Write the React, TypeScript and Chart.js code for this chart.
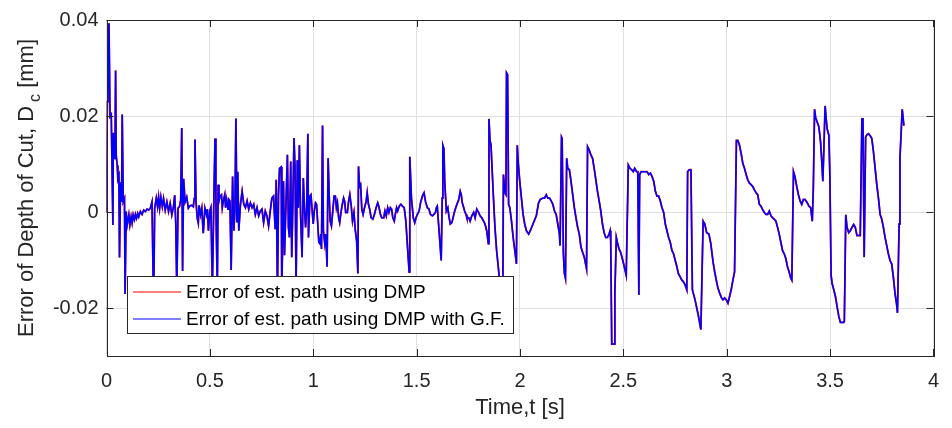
import React, { useEffect, useRef } from "react";
import { Chart, registerables } from "chart.js";

Chart.register(...registerables);

// time [s], error of depth of cut [mm]
const gfSamples: [number, number][] = [
  [0.000, 0.0000], [0.004, 0.0230], [0.007, 0.0240], [0.012, 0.0393], [0.017, 0.0199], [0.023, 0.0203], [0.031, -0.0027], [0.033, 0.0165], [0.041, 0.0110], [0.044, 0.0295],
  [0.047, 0.0117], [0.052, 0.0097], [0.055, 0.0069], [0.060, 0.0076], [0.063, -0.0095], [0.068, 0.0062], [0.073, 0.0021], [0.076, 0.0203], [0.081, 0.0021], [0.087, 0.0028],
  [0.090, -0.0171], [0.095, 0.0001], [0.100, -0.0027], [0.108, -0.0006], [0.113, -0.0027], [0.119, -0.0010], [0.124, -0.0023], [0.129, -0.0006], [0.135, -0.0016], [0.140, -0.0005],
  [0.145, -0.0013], [0.151, -0.0003], [0.156, -0.0010], [0.164, 0.0001], [0.172, -0.0005], [0.180, 0.0004], [0.188, 0.0001], [0.196, 0.0006], [0.204, 0.0004], [0.212, 0.0008],
  [0.220, 0.0021], [0.228, -0.0200], [0.233, 0.0008], [0.241, 0.0029], [0.247, 0.0011], [0.252, 0.0031], [0.257, 0.0008], [0.263, 0.0031], [0.270, 0.0011], [0.276, 0.0028],
  [0.284, 0.0004], [0.292, 0.0021], [0.300, 0.0001], [0.308, 0.0018], [0.316, -0.0006], [0.324, 0.0011], [0.330, 0.0035], [0.335, -0.0023], [0.340, -0.0160], [0.346, 0.0008],
  [0.353, 0.0011], [0.359, 0.0025], [0.364, 0.0175], [0.368, -0.0123], [0.373, 0.0069], [0.380, 0.0021], [0.388, 0.0031], [0.396, 0.0008], [0.404, 0.0013], [0.412, 0.0014],
  [0.420, 0.0011], [0.424, 0.0028], [0.428, 0.0151], [0.433, 0.0021], [0.439, -0.0013], [0.444, -0.0023], [0.448, 0.0014], [0.455, -0.0006], [0.461, 0.0008], [0.468, -0.0044],
  [0.476, 0.0008], [0.484, -0.0006], [0.488, 0.0006], [0.493, -0.0039], [0.500, 0.0002], [0.505, 0.0009], [0.512, -0.0160], [0.520, 0.0043], [0.525, 0.0153], [0.529, 0.0036],
  [0.531, -0.0036], [0.536, -0.0160], [0.540, 0.0057], [0.544, 0.0023], [0.549, 0.0033], [0.556, 0.0036], [0.560, 0.0009], [0.565, 0.0023], [0.572, 0.0036], [0.576, 0.0009],
  [0.581, 0.0026], [0.588, 0.0006], [0.592, 0.0026], [0.597, 0.0023], [0.603, -0.0121], [0.610, 0.0074], [0.616, -0.0039], [0.621, 0.0002], [0.626, 0.0195], [0.631, -0.0022],
  [0.635, 0.0084], [0.640, -0.0039], [0.648, 0.0016], [0.656, 0.0043], [0.664, 0.0016], [0.672, 0.0009], [0.680, 0.0023], [0.688, 0.0006], [0.696, 0.0019], [0.704, 0.0009],
  [0.712, 0.0016], [0.720, -0.0005], [0.728, 0.0009], [0.736, -0.0008], [0.744, 0.0002], [0.752, 0.0006], [0.760, -0.0022], [0.768, 0.0002], [0.776, -0.0008], [0.784, -0.0029],
  [0.792, 0.0002], [0.800, 0.0029], [0.808, 0.0033], [0.816, -0.0036], [0.821, 0.0067], [0.827, -0.0170], [0.832, 0.0036], [0.837, 0.0091], [0.845, 0.0094], [0.848, -0.0170],
  [0.856, 0.0064], [0.861, -0.0090], [0.867, 0.0000], [0.875, 0.0119], [0.880, -0.0032], [0.885, -0.0053], [0.891, 0.0105], [0.896, -0.0094], [0.901, 0.0009], [0.907, 0.0154],
  [0.912, 0.0091], [0.917, -0.0160], [0.923, 0.0108], [0.928, 0.0009], [0.933, 0.0139], [0.939, -0.0008], [0.946, -0.0094], [0.952, 0.0071], [0.957, 0.0012], [0.963, -0.0032],
  [0.968, 0.0002], [0.974, 0.0163], [0.977, -0.0053], [0.984, 0.0033], [0.989, 0.0036], [0.995, 0.0002], [1.000, -0.0025], [1.005, 0.0002], [1.011, 0.0019], [1.016, 0.0016],
  [1.021, -0.0019], [1.027, -0.0063], [1.032, -0.0066], [1.037, -0.0046], [1.040, -0.0077], [1.045, 0.0180], [1.049, -0.0039], [1.056, -0.0066], [1.061, -0.0046], [1.067, -0.0114],
  [1.072, 0.0112], [1.077, 0.0036], [1.082, -0.0019], [1.088, -0.0029], [1.093, -0.0005], [1.101, 0.0033], [1.107, 0.0033], [1.112, 0.0009], [1.117, 0.0019], [1.123, -0.0012],
  [1.128, -0.0022], [1.133, -0.0005], [1.139, 0.0012], [1.147, 0.0029], [1.152, 0.0022], [1.157, -0.0001], [1.165, -0.0001], [1.171, 0.0022], [1.177, 0.0036], [1.184, 0.0012],
  [1.190, -0.0019], [1.197, -0.0001], [1.203, -0.0036], [1.210, -0.0060], [1.216, -0.0128], [1.219, 0.0095], [1.224, 0.0053], [1.229, 0.0057], [1.235, 0.0006], [1.241, -0.0005],
  [1.248, 0.0009], [1.256, 0.0022], [1.261, 0.0040], [1.267, 0.0016], [1.273, 0.0006], [1.280, -0.0012], [1.288, -0.0015], [1.296, -0.0005], [1.304, 0.0009], [1.312, 0.0019],
  [1.317, 0.0012], [1.325, -0.0005], [1.331, -0.0012], [1.341, -0.0012], [1.347, 0.0002], [1.353, -0.0008], [1.360, 0.0009], [1.366, -0.0001], [1.373, 0.0009], [1.379, 0.0006],
  [1.385, -0.0012], [1.392, -0.0019], [1.397, -0.0005], [1.403, 0.0009], [1.408, 0.0002], [1.416, 0.0012], [1.424, 0.0016], [1.432, 0.0012], [1.440, 0.0009], [1.448, -0.0019],
  [1.456, -0.0073], [1.464, -0.0125], [1.467, 0.0115], [1.475, 0.0029], [1.484, -0.0012], [1.491, -0.0022], [1.497, -0.0012], [1.504, -0.0005], [1.512, 0.0002], [1.519, 0.0019],
  [1.528, 0.0033], [1.536, 0.0040], [1.543, 0.0022], [1.552, 0.0009], [1.560, 0.0006], [1.567, -0.0005], [1.576, -0.0008], [1.584, -0.0005], [1.591, -0.0001], [1.596, 0.0009],
  [1.600, 0.0012], [1.604, -0.0012], [1.611, -0.0053], [1.619, -0.0101], [1.624, 0.0029], [1.627, 0.0139], [1.632, 0.0132], [1.636, 0.0064], [1.644, 0.0002], [1.651, 0.0009],
  [1.656, -0.0008], [1.663, -0.0025], [1.671, -0.0022], [1.680, -0.0005], [1.687, 0.0006], [1.695, 0.0016], [1.704, 0.0026], [1.711, 0.0043], [1.716, 0.0036], [1.721, 0.0019],
  [1.728, 0.0009], [1.732, 0.0002], [1.739, -0.0005], [1.743, -0.0012], [1.752, -0.0012], [1.759, -0.0019], [1.767, -0.0008], [1.776, -0.0001], [1.783, -0.0012], [1.791, 0.0006],
  [1.800, -0.0001], [1.807, -0.0008], [1.815, -0.0012], [1.824, -0.0019], [1.831, -0.0025], [1.839, -0.0039], [1.847, -0.0066], [1.850, 0.0194], [1.855, 0.0149], [1.860, 0.0139],
  [1.871, 0.0036], [1.879, -0.0032], [1.887, -0.0080], [1.895, -0.0114], [1.903, -0.0150], [1.910, -0.0170], [1.917, -0.0180], [1.920, 0.0078], [1.927, 0.0040], [1.932, 0.0036],
  [1.935, 0.0290], [1.940, 0.0286], [1.945, 0.0016], [1.951, 0.0009], [1.959, -0.0019], [1.967, -0.0053], [1.975, -0.0080], [1.983, -0.0108], [1.987, 0.0139], [1.991, 0.0105],
  [1.999, 0.0064], [2.015, -0.0005], [2.023, -0.0025], [2.031, -0.0039], [2.042, -0.0046], [2.050, -0.0039], [2.063, -0.0025], [2.079, -0.0008], [2.090, 0.0019], [2.098, 0.0026],
  [2.111, 0.0029], [2.119, 0.0029], [2.127, 0.0036], [2.135, 0.0029], [2.143, 0.0029], [2.151, 0.0023], [2.159, 0.0016], [2.167, 0.0002], [2.175, -0.0005], [2.183, -0.0025],
  [2.191, -0.0046], [2.194, -0.0070], [2.201, 0.0156], [2.204, 0.0153], [2.210, -0.0087], [2.215, -0.0128], [2.220, -0.0138], [2.226, 0.0112], [2.231, 0.0091], [2.239, 0.0088],
  [2.247, 0.0064], [2.255, 0.0036], [2.263, 0.0009], [2.271, -0.0012], [2.279, -0.0032], [2.287, -0.0046], [2.295, -0.0073], [2.303, -0.0084], [2.311, -0.0094], [2.322, -0.0118],
  [2.327, 0.0136], [2.335, 0.0129], [2.343, 0.0119], [2.351, 0.0112], [2.359, 0.0091], [2.367, 0.0067], [2.375, 0.0043], [2.383, 0.0023], [2.391, 0.0002], [2.399, -0.0025],
  [2.407, -0.0043], [2.415, -0.0053], [2.423, -0.0053], [2.431, -0.0046], [2.436, -0.0039], [2.439, -0.0060], [2.444, -0.0275], [2.455, -0.0275], [2.459, -0.0169], [2.466, -0.0053],
  [2.471, -0.0063], [2.479, -0.0077], [2.487, -0.0084], [2.495, -0.0097], [2.503, -0.0111], [2.514, -0.0132], [2.524, 0.0098], [2.532, 0.0091], [2.540, 0.0088], [2.548, 0.0084],
  [2.555, 0.0091], [2.564, 0.0084], [2.570, 0.0084], [2.575, -0.0173], [2.579, 0.0078], [2.586, 0.0084], [2.599, 0.0084], [2.615, 0.0084], [2.623, 0.0078], [2.631, 0.0081],
  [2.639, 0.0074], [2.647, 0.0064], [2.655, 0.0043], [2.663, 0.0033], [2.671, 0.0033], [2.679, 0.0023], [2.687, 0.0009], [2.695, -0.0001], [2.703, -0.0025], [2.711, -0.0039],
  [2.719, -0.0053], [2.727, -0.0063], [2.735, -0.0080], [2.743, -0.0087], [2.751, -0.0101], [2.759, -0.0114], [2.766, -0.0128], [2.775, -0.0135], [2.783, -0.0142], [2.790, -0.0145],
  [2.799, -0.0152], [2.807, -0.0162], [2.811, 0.0084], [2.819, 0.0088], [2.827, 0.0088], [2.834, -0.0162], [2.847, -0.0183], [2.862, -0.0214], [2.875, -0.0245], [2.886, -0.0019],
  [2.894, -0.0025], [2.903, -0.0043], [2.914, -0.0046], [2.923, -0.0066], [2.934, -0.0104], [2.942, -0.0125], [2.951, -0.0145], [2.958, -0.0159], [2.966, -0.0169], [2.975, -0.0179],
  [2.982, -0.0183], [2.990, -0.0179], [2.998, -0.0183], [3.006, -0.0190], [3.014, -0.0176], [3.023, -0.0159], [3.030, -0.0142], [3.038, -0.0125], [3.047, 0.0149], [3.054, 0.0149],
  [3.062, 0.0139], [3.071, 0.0119], [3.078, 0.0101], [3.086, 0.0091], [3.094, 0.0078], [3.102, 0.0067], [3.110, 0.0060], [3.118, 0.0057], [3.126, 0.0053], [3.134, 0.0046],
  [3.142, 0.0040], [3.150, 0.0036], [3.158, 0.0016], [3.166, 0.0012], [3.174, 0.0005], [3.182, -0.0001], [3.190, -0.0005], [3.198, -0.0005], [3.206, 0.0002], [3.214, -0.0008],
  [3.222, -0.0012], [3.230, -0.0015], [3.238, -0.0019], [3.246, -0.0032], [3.254, -0.0046], [3.262, -0.0063], [3.270, -0.0080], [3.278, -0.0087], [3.286, -0.0097], [3.294, -0.0114],
  [3.302, -0.0125], [3.310, -0.0138], [3.315, -0.0142], [3.323, 0.0084], [3.330, 0.0074], [3.339, 0.0053], [3.347, 0.0036], [3.355, 0.0023], [3.363, 0.0016], [3.371, 0.0026],
  [3.379, 0.0026], [3.390, 0.0019], [3.398, 0.0012], [3.406, 0.0009], [3.414, -0.0019], [3.419, 0.0050], [3.425, 0.0214], [3.430, 0.0197], [3.438, 0.0187], [3.446, 0.0177],
  [3.454, 0.0146], [3.460, 0.0105], [3.465, 0.0064], [3.470, 0.0132], [3.476, 0.0221], [3.481, 0.0194], [3.486, 0.0173], [3.494, 0.0160], [3.499, 0.0078], [3.505, -0.0132],
  [3.510, -0.0149], [3.518, -0.0162], [3.526, -0.0176], [3.534, -0.0197], [3.542, -0.0217], [3.550, -0.0230], [3.566, -0.0230], [3.569, -0.0228], [3.576, -0.0006], [3.582, -0.0032],
  [3.590, -0.0043], [3.598, -0.0039], [3.606, -0.0032], [3.614, -0.0026], [3.622, -0.0032], [3.630, -0.0049], [3.646, -0.0049], [3.654, 0.0194], [3.659, 0.0194], [3.665, -0.0094],
  [3.672, 0.0156], [3.678, 0.0161], [3.686, 0.0163], [3.694, 0.0159], [3.702, 0.0153], [3.710, 0.0125], [3.718, 0.0091], [3.726, 0.0057], [3.734, 0.0029], [3.742, -0.0005],
  [3.750, -0.0015], [3.758, -0.0032], [3.766, -0.0053], [3.774, -0.0070], [3.782, -0.0087], [3.790, -0.0101], [3.798, -0.0108], [3.806, -0.0135], [3.814, -0.0169], [3.822, -0.0193],
  [3.826, -0.0210], [3.834, -0.0025], [3.838, 0.0112], [3.849, 0.0214], [3.857, 0.0180],
];

// The plain-DMP estimate is visually indistinguishable from the G.F. one
const dmpSamples: [number, number][] = gfSamples;

const xTicks = [0, 0.5, 1, 1.5, 2, 2.5, 3, 3.5, 4];
const yTicks = [-0.02, 0, 0.02, 0.04];
const legendLabels = ["Error of est. path using DMP", "Error of est. path using DMP with G.F."];
const seriesColors = ["#ff0000", "#0000ff"];

const FONT = "'Liberation Sans', Arial, Helvetica, sans-serif";
const TEXT = "#262626";

const decorPlugin = {
  id: "matlabDecor",
  afterDatasetsDraw(chart: any) {
    const { ctx, chartArea: a, scales } = chart;
    const xs = scales.x;
    const ys = scales.y;
    ctx.save();
    // box + inward ticks
    ctx.strokeStyle = TEXT;
    ctx.lineWidth = 1;
    ctx.strokeRect(Math.round(a.left) + 0.5, Math.round(a.top) + 0.5, Math.round(a.right - a.left), Math.round(a.bottom - a.top));
    const tl = 7;
    ctx.beginPath();
    xTicks.forEach((v) => {
      const px = Math.round(xs.getPixelForValue(v)) + 0.5;
      ctx.moveTo(px, a.bottom);
      ctx.lineTo(px, a.bottom - tl);
      ctx.moveTo(px, a.top);
      ctx.lineTo(px, a.top + tl);
    });
    yTicks.forEach((v) => {
      const py = Math.round(ys.getPixelForValue(v)) + 0.5;
      ctx.moveTo(a.left, py);
      ctx.lineTo(a.left + tl, py);
      ctx.moveTo(a.right, py);
      ctx.lineTo(a.right - tl, py);
    });
    ctx.stroke();

    // legend
    const lx = 127.5, ly = 276.5, lw = 386, lh = 57;
    ctx.fillStyle = "#ffffff";
    ctx.fillRect(lx, ly, lw, lh);
    ctx.strokeStyle = TEXT;
    ctx.strokeRect(lx, ly, lw, lh);
    const rows = [292, 319];
    ctx.font = `19px ${FONT}`;
    ctx.textBaseline = "middle";
    ctx.textAlign = "left";
    legendLabels.forEach((lab, i) => {
      ctx.strokeStyle = seriesColors[i];
      ctx.lineWidth = 1.2;
      ctx.beginPath();
      ctx.moveTo(133, rows[i]);
      ctx.lineTo(181, rows[i]);
      ctx.stroke();
      ctx.fillStyle = "#000000";
      ctx.fillText(lab, 186, rows[i] + 1);
    });
    ctx.restore();
  },
  afterDraw(chart: any) {
    const { ctx, chartArea: a } = chart;
    ctx.save();
    ctx.fillStyle = TEXT;
    ctx.font = `22px ${FONT}`;
    ctx.textAlign = "center";
    ctx.textBaseline = "middle";
    ctx.fillText("Time,t [s]", (a.left + a.right) / 2, 408);

    // rotated y title with subscript
    const main = "Error of Depth of Cut, D";
    const sub = "c";
    const tail = " [mm]";
    ctx.font = `22px ${FONT}`;
    const wMain = ctx.measureText(main).width;
    const wTail = ctx.measureText(tail).width;
    ctx.font = `16px ${FONT}`;
    const wSub = ctx.measureText(sub).width;
    const gap = 4;
    const total = wMain + gap + wSub + wTail;
    const cy = (a.top + a.bottom) / 2;
    ctx.translate(33, cy);
    ctx.rotate(-Math.PI / 2);
    ctx.textAlign = "left";
    ctx.textBaseline = "alphabetic";
    let x0 = -total / 2;
    ctx.font = `22px ${FONT}`;
    ctx.fillText(main, x0, 0);
    x0 += wMain + gap;
    ctx.font = `16px ${FONT}`;
    ctx.fillText(sub, x0, 7);
    x0 += wSub;
    ctx.font = `22px ${FONT}`;
    ctx.fillText(tail, x0, 0);
    ctx.restore();
  },
};

export default function App() {
  const ref = useRef<HTMLCanvasElement | null>(null);

  useEffect(() => {
    if (!ref.current) return;
    const chart = new Chart(ref.current, {
      type: "line",
      data: {
        datasets: [
          {
            label: legendLabels[1],
            data: gfSamples.map(([t, e]) => ({ x: t, y: e })),
            borderColor: seriesColors[1],
            borderWidth: 1.6,
            pointRadius: 0,
            tension: 0,
            order: 0,
          },
          {
            label: legendLabels[0],
            data: dmpSamples.map(([t, e]) => ({ x: t, y: e })),
            borderColor: seriesColors[0],
            borderWidth: 1.8,
            pointRadius: 0,
            tension: 0,
            order: 1,
          },
        ],
      },
      options: {
        animation: false,
        responsive: false,
        events: [],
        layout: { padding: { top: 16, right: 12, left: 0, bottom: 0 } },
        plugins: { legend: { display: false }, tooltip: { enabled: false } },
        scales: {
          x: {
            type: "linear",
            min: 0,
            max: 4,
            afterBuildTicks: (s: any) => {
              s.ticks = xTicks.map((v) => ({ value: v }));
            },
            afterFit: (s: any) => {
              s.height = 72;
            },
            grid: { color: "#dfdfdf", drawTicks: false, lineWidth: 1 },
            border: { display: false },
            ticks: {
              color: TEXT,
              font: { family: FONT, size: 20 },
              padding: 13,
              maxRotation: 0,
              autoSkip: false,
              callback: (v: any) => String(v),
            },
          },
          y: {
            type: "linear",
            min: -0.03,
            max: 0.04,
            afterBuildTicks: (s: any) => {
              s.ticks = yTicks.map((v) => ({ value: v }));
            },
            afterFit: (s: any) => {
              s.width = 106.5;
            },
            grid: { color: "#dfdfdf", drawTicks: false, lineWidth: 1 },
            border: { display: false },
            ticks: {
              color: TEXT,
              font: { family: FONT, size: 20 },
              padding: 8,
              autoSkip: false,
              callback: (v: any) => (v === 0 ? "0" : Number(v).toFixed(2)),
            },
          },
        },
      },
      plugins: [decorPlugin],
    });
    return () => chart.destroy();
  }, []);

  return (
    <div style={{ position: "absolute", left: 0, top: 0, width: 952, height: 428, background: "#fff" }}>
      <canvas ref={ref} width={952} height={428} style={{ display: "block", width: 952, height: 428 }} />
    </div>
  );
}
